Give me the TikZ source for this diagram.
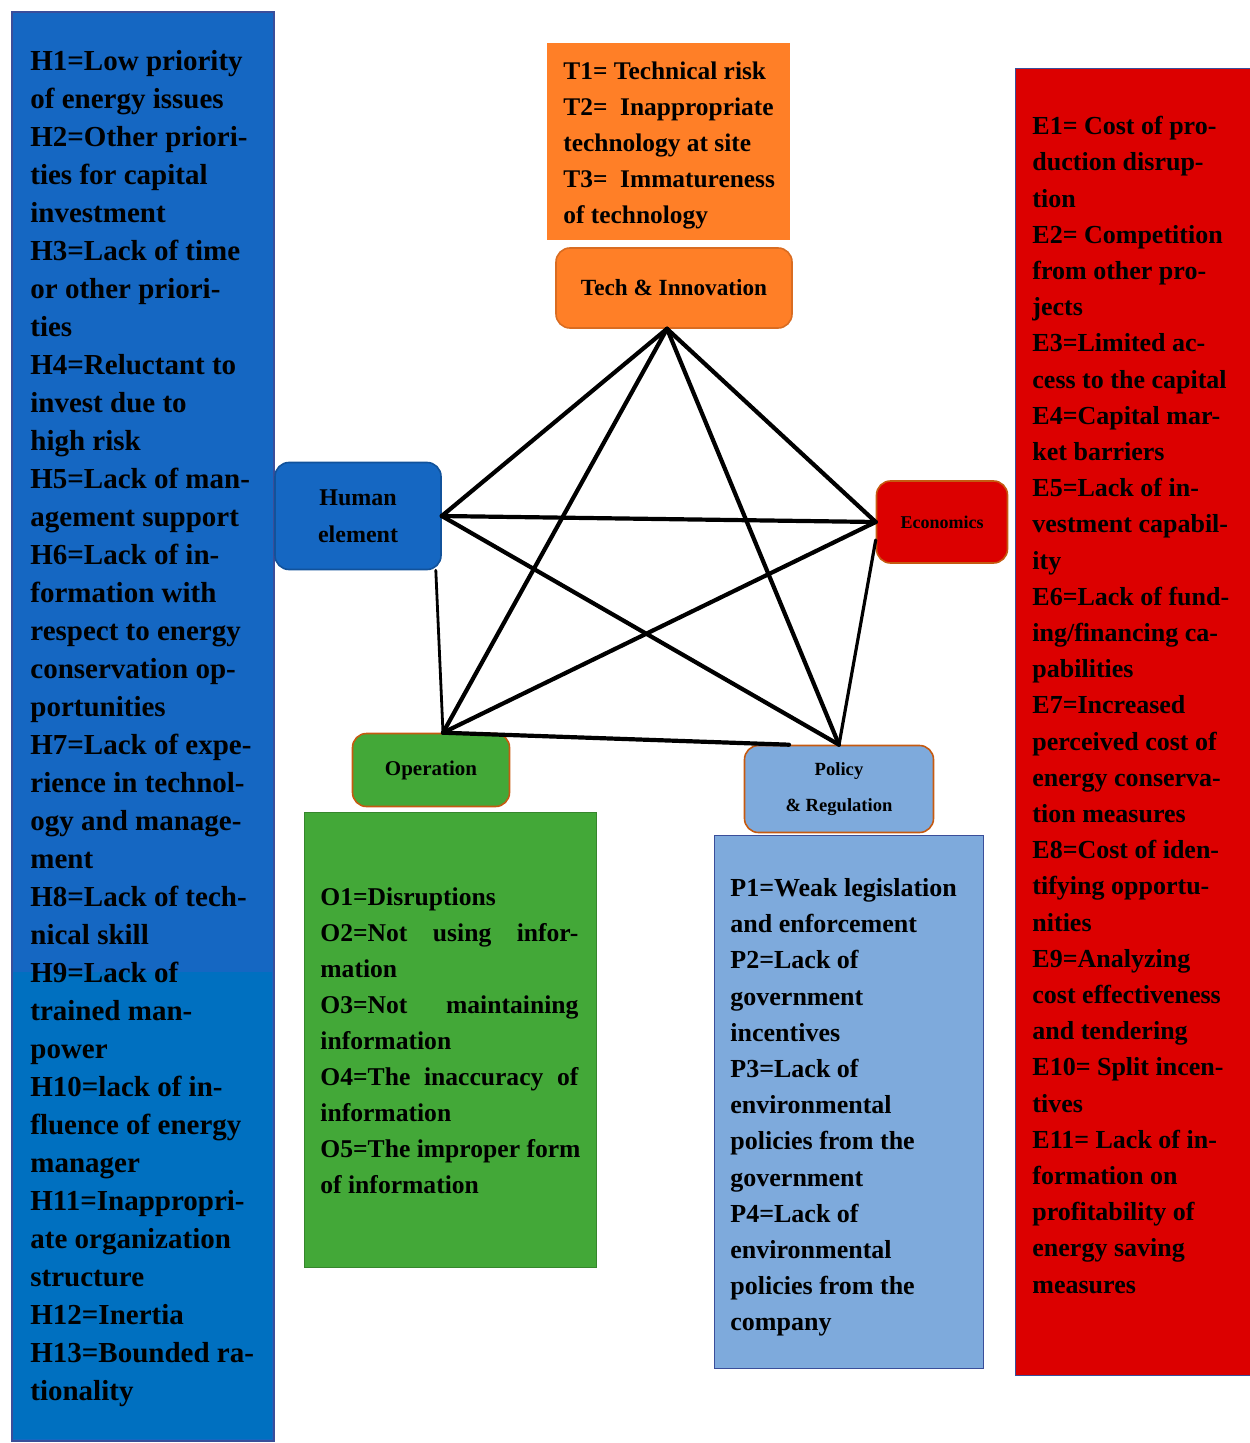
\documentclass[tikz,border=0pt]{standalone}
\usepackage{fontspec}
\setmainfont{Liberation Serif}
\usetikzlibrary{positioning}
\definecolor{hblue}{HTML}{1567C2}
\definecolor{hblueb}{HTML}{0070C0}
\definecolor{torange}{HTML}{FF7F27}
\definecolor{ered}{HTML}{DC0000}
\definecolor{ogreen}{HTML}{43A838}
\definecolor{pblue}{HTML}{7EAADC}
\definecolor{brdorange}{HTML}{C55A11}
\definecolor{brdblue}{HTML}{3A4E9A}
\tikzset{
  listbox/.style={anchor=north west, inner sep=0pt, line width=0.6pt},
  listtext/.style={anchor=north west, inner sep=0pt, align=left,
    font=\bfseries\fontsize{13}{18.1}\selectfont},
  catbox/.style={rounded corners=7pt, line width=0.8pt, inner sep=0pt,
    align=center, font=\bfseries},
  link/.style={line width=2.1pt, line cap=round}
}
\begin{document}
\begin{tikzpicture}[x=0.5pt, y=-0.5pt]
	\useasboundingbox (0,0) rectangle (1249,1443);
	% list boxes
	\node[listbox, fill=hblue, draw=brdblue, minimum width=130.5pt, minimum height=714pt] (hlist) at (12,12) {};
	\fill[hblueb] (12.6,972) rectangle (272.4,1439.4);
	\draw[brdblue, line width=0.6pt] (hlist.north west) rectangle (hlist.south east);
	\node[listbox, fill=torange, minimum width=121.5pt, minimum height=98.5pt] (tlist) at (546,42) {};
	\node[listbox, fill=ered, draw=brdblue, minimum width=120pt, minimum height=653.5pt] (elist) at (1015,68) {};
	\node[listbox, fill=ogreen, draw=ogreen!80!black, minimum width=146pt, minimum height=227.5pt] (olist) at (304,812) {};
	\node[listbox, fill=pblue, draw=brdblue, minimum width=134.5pt, minimum height=266.5pt] (plist) at (714,835) {};

	\node[listtext, font=\bfseries\fontsize{14.5}{19}\selectfont] (htext) at (30,50) {H1=Low priority\\of energy issues\\H2=Other priori-\\ties for capital\\investment\\H3=Lack of time\\or other priori-\\ties\\H4=Reluctant to\\invest due to\\high risk\\H5=Lack of man-\\agement support\\H6=Lack of in-\\formation with\\respect to energy\\conservation op-\\portunities\\H7=Lack of expe-\\rience in technol-\\ogy and manage-\\ment\\H8=Lack of tech-\\nical skill\\H9=Lack of\\trained man-\\power\\H10=lack of in-\\fluence of energy\\manager\\H11=Inappropri-\\ate organization\\structure\\H12=Inertia\\H13=Bounded ra-\\tionality};
	\node[listtext, font=\bfseries\fontsize{12.7}{18.1}\selectfont] (ttext) at (563,61) {T1= Technical risk\\T2=\ \ Inappropriate\\technology at site\\T3=\ \ Immatureness\\of technology};
	\node[listtext] (etext) at (1032,116) {E1= Cost of pro-\\duction disrup-\\tion\\E2= Competition\\from other pro-\\jects\\E3=Limited ac-\\cess to the capital\\E4=Capital mar-\\ket barriers\\E5=Lack of in-\\vestment capabil-\\ity\\E6=Lack of fund-\\ing/financing ca-\\pabilities\\E7=Increased\\perceived cost of\\energy conserva-\\tion measures\\E8=Cost of iden-\\tifying opportu-\\nities\\E9=Analyzing\\cost effectiveness\\and tendering\\E10= Split incen-\\tives\\E11= Lack of in-\\formation on\\profitability of\\energy saving\\measures};
	\node[listtext, font=\bfseries\fontsize{12.8}{18}\selectfont] (otext) at (320,887) {O1=Disruptions\\\makebox[129pt][s]{O2=Not using infor-}\\mation\\\makebox[129pt][s]{O3=Not maintaining}\\information\\\makebox[129pt][s]{O4=The inaccuracy of}\\information\\O5=The improper form\\of information};
	\node[listtext] (ptext) at (730,878) {P1=Weak legislation\\and enforcement\\P2=Lack of\\government\\incentives\\P3=Lack of\\environmental\\policies from the\\government\\P4=Lack of\\environmental\\policies from the\\company};

	% category boxes
	\node[catbox, fill=torange, draw=torange!85!black, minimum width=118pt, minimum height=40pt, font=\bfseries\fontsize{11.6}{13}\selectfont] (tech) at (674,288) {Tech \& Innovation};
	\node[catbox, fill=hblue, draw=hblue!80!black, minimum width=83pt, minimum height=53.5pt, font=\bfseries\fontsize{12}{18.5}\selectfont] (human) at (358,516) {Human\\element};
	\node[catbox, fill=ered, draw=brdorange, minimum width=65.5pt, minimum height=41pt, font=\bfseries\fontsize{9}{11}\selectfont] (econ) at (942,522) {Economics};
	\node[catbox, fill=ogreen, draw=brdorange, minimum width=78.5pt, minimum height=36.5pt, font=\bfseries\fontsize{10.5}{12}\selectfont] (oper) at (431,770) {Operation};
	\node[catbox, fill=pblue, draw=brdorange, minimum width=94.5pt, minimum height=43.5pt, font=\bfseries\fontsize{9.3}{18}\selectfont] (pol) at (839,789) {Policy\\\& Regulation};

	% links
	\draw[link] ([xshift=-3.5pt]tech.south) -- (human.east);
	\draw[link] ([xshift=-3.5pt]tech.south) -- (econ.west);
	\draw[link] ([xshift=-3.5pt]tech.south) -- ([xshift=6pt]oper.north);
	\draw[link] ([xshift=-3.5pt]tech.south) -- (pol.north);
	\draw[link] (human.east) -- (econ.west);
	\draw[link] (human.east) -- (pol.north);
	\draw[link, line width=1.4pt] ([xshift=-3pt]human.south east) -- ([xshift=6pt]oper.north);
	\draw[link] (econ.west) -- ([xshift=6pt]oper.north);
	\draw[link, line width=1.6pt] ([yshift=-9pt]econ.west) -- (pol.north);
	\draw[link] ([xshift=6pt]oper.north) -- ([xshift=-25pt]pol.north);
\end{tikzpicture}
\end{document}
